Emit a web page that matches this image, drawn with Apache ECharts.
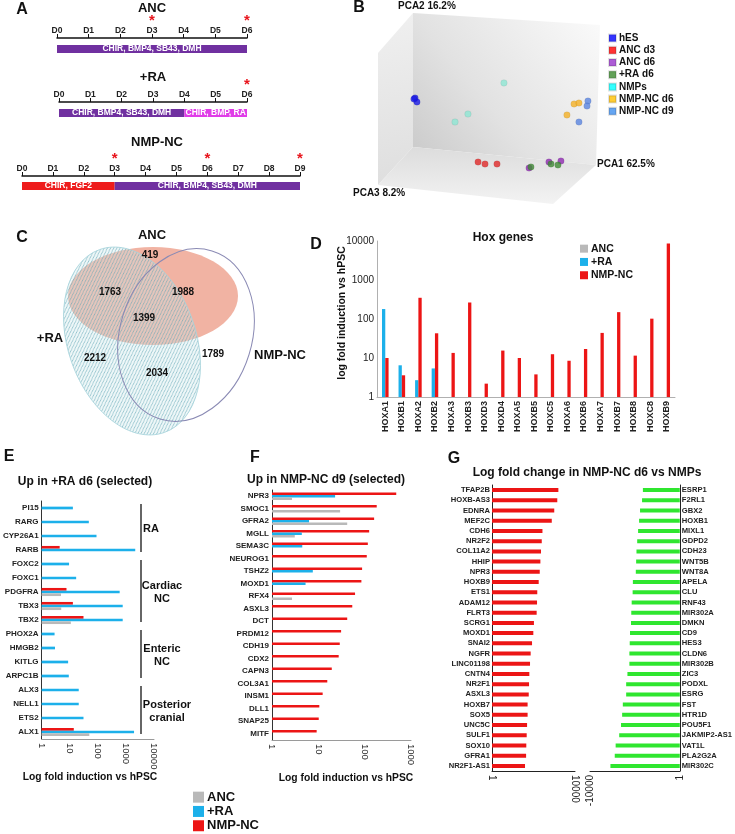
<!DOCTYPE html>
<html><head><meta charset="utf-8">
<script src="https://cdn.jsdelivr.net/npm/echarts@6/dist/echarts.min.js"></script>
<style>html,body{margin:0;padding:0;background:#fff}#c{width:735px;height:834px}</style>
</head><body><div id="c"></div>
<script>
// ---------------- DATA ----------------
// Panel A: differentiation protocols (segment lengths in days)
const ancTicks = ['D0','D1','D2','D3','D4','D5','D6'];
const ancStarDays = [3, 6];
const ancSegLabels = ['CHIR, BMP4, SB43, DMH'];
const ancSegDays = [6];
const raTicks = ['D0','D1','D2','D3','D4','D5','D6'];
const raStarDays = [6];
const raSegLabels = ['CHIR, BMP4, SB43, DMH', 'CHIR, BMP, RA'];
const raSegDays = [4, 2];
const nmpTicks = ['D0','D1','D2','D3','D4','D5','D6','D7','D8','D9'];
const nmpStarDays = [3, 6, 9];
const nmpSegLabels = ['CHIR, FGF2', 'CHIR, BMP4, SB43, DMH'];
const nmpSegDays = [3, 6];

// Panel B: PCA (projected PC1 / PC2 scores)
const pcaGroups = ['hES','ANC d3','ANC d6','+RA d6','NMPs','NMP-NC d6','NMP-NC d9'];
const pcaHES = [[-70.8,6.7],[-69.2,2.9],[-71.7,5.7]];
const pcaANCd3 = [[-18.3,-54.3],[-12.5,-56.2],[-2.5,-56.2]];
const pcaANCd6 = [[24.2,-60],[40.8,-54.3],[50.8,-53.3]];
const pcaRAd6 = [[25.8,-59],[42.5,-56.2],[48.3,-57.1]];
const pcaNMPs = [[3.3,21.0],[-26.7,-8.6],[-37.5,-16.2]];
const pcaNMPNCd6 = [[61.7,1.0],[65.8,1.9],[55.8,-9.5]];
const pcaNMPNCd9 = [[73.3,3.8],[72.5,-1.0],[65.8,-16.2]];
const pcaAxisNames = ['PCA1 62.5%','PCA2 16.2%','PCA3 8.2%'];

// Panel C: Venn counts
const vennSets = ['ANC','+RA','NMP-NC'];
const vennRegions = ['ANC only','ANC & +RA','ANC & NMP-NC','all three','+RA only','+RA & NMP-NC','NMP-NC only'];
const vennCounts = [419, 1763, 1988, 1399, 2212, 2034, 1789];

// Panel D: Hox genes
const hoxGenes = ['HOXA1','HOXB1','HOXA2','HOXB2','HOXA3','HOXB3','HOXD3','HOXD4','HOXA5','HOXB5','HOXC5','HOXA6','HOXB6','HOXA7','HOXB7','HOXB8','HOXC8','HOXB9'];
const hoxRA = [180, 6.5, 2.7, 5.4, '-', '-', '-', '-', '-', '-', '-', '-', '-', '-', '-', '-', '-', '-'];
const hoxNMP = [10, 3.6, 350, 43, 13.5, 265, 2.2, 15.5, 10, 3.8, 12.5, 8.5, 17, 44, 150, 11.5, 102, 8600];

// Panel E: Up in +RA d6
const raGenes = ['PI15','RARG','CYP26A1','RARB','FOXC2','FOXC1','PDGFRA','TBX3','TBX2','PHOX2A','HMGB2','KITLG','ARPC1B','ALX3','NELL1','ETS2','ALX1'];
const raANC = ['-','-','-','-','-','-',4.9,5,11,'-','-','-','-','-','-','-',50];
const raRA = [13,48,90,2150,9.5,17,600,770,770,2.9,3.0,8.8,9.3,21,21,31,1950];
const raNMP = ['-','-','-',4.4,'-','-',7.7,13,31,'-','-','-','-','-','-','-',14];
const raGroups = ['RA','Cardiac\nNC','Enteric\nNC','Posterior\ncranial'];
const raGroupFirst = ['PI15','FOXC2','PHOX2A','ALX3'];
const raGroupLast = ['RARB','TBX2','ARPC1B','ALX1'];

// Panel F: Up in NMP-NC d9
const nmpGenes = ['NPR3','SMOC1','GFRA2','MGLL','SEMA3C','NEUROG1','TSHZ2','MOXD1','RFX4','ASXL3','DCT','PRDM12','CDH19','CDX2','CAPN3','COL3A1','INSM1','DLL1','SNAP25','MITF'];
const nmpNMP = [480,182,160,125,117,111,88,85,62,54,42,31,29,27.5,19.5,15.6,12.4,10.5,10.2,9.2];
const nmpRA = [23,'-',6.3,4.4,4.5,'-',7.6,5.3,'-','-','-','-','-','-','-','-','-','-','-','-'];
const nmpANC = [2.7,29.5,42,3.1,'-','-','-','-',2.7,'-','-','-','-','-','-','-','-','-','-','-'];

// Panel G: log fold change NMP-NC d6 vs NMPs
const gUpGenes = ['TFAP2B','HOXB-AS3','EDNRA','MEF2C','CDH6','NR2F2','COL11A2','HHIP','NPR3','HOXB9','ETS1','ADAM12','FLRT3','SCRG1','MOXD1','SNAI2','NGFR','LINC01198','CNTN4','NR2F1','ASXL3','HOXB7','SOX5','UNC5C','SULF1','SOX10','GFRA1','NR2F1-AS1'];
const gUpFold = [1580,1400,1000,760,270,250,230,215,200,178,152,148,142,105,98,85,73,68,63,61,59,52,52,49,47,45,44,39];
const gDownGenes = ['ESRP1','F2RL1','GBX2','HOXB1','MIXL1','GDPD2','CDH23','WNT5B','WNT8A','APELA','CLU','RNF43','MIR302A','DMKN','CD9','HES3','CLDN6','MIR302B','ZIC3','PODXL','ESRG','FST','HTR1D','POU5F1','JAKMIP2-AS1','VAT1L','PLA2G2A','MIR302C'];
const gDownFold = [-44,-48,-59,-65,-72,-79,-85,-88,-91,-123,-126,-139,-145,-149,-165,-170,-176,-176,-215,-245,-245,-345,-370,-415,-500,-720,-790,-1230];

// ---------------- STYLE ----------------
const FONT = '"Liberation Sans", Arial, Helvetica, sans-serif';
const C_ANC = '#b9b9b9', C_RA = '#1cb0ea', C_NMP = '#ec1515', C_GREEN = '#2fe62f';
const PURPLE = '#7030a0', MAGENTA = '#e03ce8', RED_A = '#ee1c1c';
const pcaPointColors = ['#1a1ae6','#e02828','#8e2bb0','#3f8a34','#8fe6d3','#f4b026','#5a84e0'];
const pcaLegendColors = ['#0000ff','#ff0000','#9933cc','#3b8a2e','#00ffff','#ffc000','#3f8fef'];
const pcaData = [pcaHES, pcaANCd3, pcaANCd6, pcaRAd6, pcaNMPs, pcaNMPNCd6, pcaNMPNCd9];

function txt(x, y, text, size, o) {
  o = o || {};
  return {type:'text', x:x, y:y, rotation:o.rotation||0, silent:true, z:20,
    style:{text:text, font:(o.weight||'bold')+' '+size+'px '+FONT, fill:o.color||'#111',
      textAlign:o.align||'center', verticalAlign:o.valign||'middle', lineHeight:o.lineHeight}};
}

function timelineX(gi, ticks, stars) {
  return {gridIndex:gi, type:'value', min:0, max:ticks.length-1, interval:1, position:'top',
    axisLine:{show:true, onZero:false, lineStyle:{color:'#111', width:1.5}},
    axisTick:{show:true, length:4, lineStyle:{color:'#111', width:1}},
    splitLine:{show:false},
    axisLabel:{margin:3, fontSize:8.5, fontWeight:'bold', color:'#222', fontFamily:FONT,
      formatter:function(v){ return stars.indexOf(v) >= 0 ? '{s|*}\n' + ticks[v] : ticks[v]; },
      rich:{s:{color:'#e8141c', fontSize:15, fontWeight:'bold', lineHeight:11, fontFamily:FONT}}}};
}
function segSeries(gi, labels, days, colors, stackId) {
  return labels.map(function(lab, i){
    return {type:'bar', xAxisIndex:gi, yAxisIndex:gi, stack:stackId, barWidth:8, data:[days[i]], silent:true,
      itemStyle:{color:colors[i]},
      label:{show:true, position:'inside', formatter:lab, color:'#fff', fontSize:8.5, fontWeight:'bold', fontFamily:FONT}};
  });
}
function logX(gi, max, o) {
  o = o || {};
  return {gridIndex:gi, type:'log', logBase:10, min:1, max:max, inverse:!!o.inverse,
    axisLine:{show:true, onZero:false, lineStyle:{color:o.lineColor||'#999', width:1}},
    axisTick:{show:false}, splitLine:{show:false},
    axisLabel:{rotate:o.rotate||-90, fontSize:o.fontSize||9.5, color:'#222', margin:4, fontFamily:FONT,
      formatter:o.formatter||function(v){ return String(Math.round(v)); }}};
}
function catY(gi, data, o) {
  o = o || {};
  return {gridIndex:gi, type:'category', data:data, inverse:true, position:o.position||'left',
    axisLine:{show:true, onZero:false, lineStyle:{color:o.lineColor||'#333', width:1}},
    axisTick:{show:false},
    axisLabel:{interval:0, fontSize:o.fontSize||8, fontWeight:'bold', color:'#222', margin:o.margin||3, fontFamily:FONT}};
}
function hbar(name, gi, data, color, w) {
  return {type:'bar', name:name, xAxisIndex:gi, yAxisIndex:gi, data:data, barWidth:w, barGap:'0%', silent:true, itemStyle:{color:color}};
}

const gRound = function(v){ return Math.round(v); };

const option = {
  animation:false,
  backgroundColor:'#fff',
  textStyle:{fontFamily:FONT},
  grid:[
    {left:57, top:38, width:190, height:22},
    {left:59, top:102, width:188, height:22},
    {left:22, top:176, width:278, height:20},
    {left:380, top:0, width:240, height:210},
    {left:377, top:241, width:298, height:156},
    {left:34, top:501, width:120, height:238},
    {left:272, top:490, width:139, height:250},
    {left:492, top:485, width:83, height:286},
    {left:590, top:485, width:92, height:286}
  ],
  xAxis:[
    timelineX(0, ancTicks, ancStarDays),
    timelineX(1, raTicks, raStarDays),
    timelineX(2, nmpTicks, nmpStarDays),
    {gridIndex:3, type:'value', min:-100, max:100, show:false},
    {gridIndex:4, type:'category', data:hoxGenes,
      axisLine:{lineStyle:{color:'#b0b0b0'}}, axisTick:{show:false},
      axisLabel:{rotate:90, interval:0, fontSize:9, fontWeight:'bold', color:'#222', margin:4, fontFamily:FONT}},
    logX(5, 10000, {lineColor:'#9a9a9a'}),
    logX(6, 1000, {lineColor:'#9a9a9a'}),
    logX(7, 10000, {lineColor:'#222', fontSize:10, formatter:function(v){ var r=Math.round(v); return (r===1||r===10000)? String(r) : ''; }}),
    logX(8, 10000, {lineColor:'#222', fontSize:10, inverse:true, rotate:90, formatter:function(v){ var r=Math.round(v); return r===10000 ? '-10000' : (r===1 ? '1' : ''); }})
  ],
  yAxis:[
    {gridIndex:0, type:'category', data:['p'], show:false},
    {gridIndex:1, type:'category', data:['p'], show:false},
    {gridIndex:2, type:'category', data:['p'], show:false},
    {gridIndex:3, type:'value', min:-100, max:100, show:false},
    {gridIndex:4, type:'log', logBase:10, min:1, max:10000,
      axisLine:{show:true, lineStyle:{color:'#b0b0b0'}}, axisTick:{show:false}, splitLine:{show:false},
      axisLabel:{fontSize:10, color:'#222', margin:3, fontFamily:FONT, formatter:gRound}},
    catY(5, raGenes, {fontSize:8}),
    catY(6, nmpGenes, {fontSize:8}),
    catY(7, gUpGenes, {fontSize:7.6, lineColor:'#222', margin:2}),
    catY(8, gDownGenes, {fontSize:7.6, lineColor:'#222', margin:2, position:'right'})
  ],
  legend:[
    {data:pcaGroups.map(function(n,i){ return {name:n, itemStyle:{color:pcaLegendColors[i]}}; }),
      left:608, top:32, orient:'vertical', icon:'rect', itemWidth:7, itemHeight:7, itemGap:0, padding:0,
      selectedMode:false, textStyle:{fontSize:10, fontWeight:'bold', color:'#111', lineHeight:12.2, padding:[0,0,0,-2]}},
    {data:['ANC','+RA','NMP-NC'], left:580, top:242, orient:'vertical', icon:'rect', itemWidth:8, itemHeight:8, itemGap:0, padding:0,
      selectedMode:false, textStyle:{fontSize:10.5, fontWeight:'bold', color:'#111', lineHeight:13.3, padding:[0,0,0,-2]}},
    {data:['ANC','+RA','NMP-NC'], left:193, top:790, height:44, orient:'vertical', icon:'rect', itemWidth:11, itemHeight:11, itemGap:0, padding:0,
      selectedMode:false, textStyle:{fontSize:13, fontWeight:'bold', color:'#111', lineHeight:14.3, padding:[0,0,0,-2]}}
  ],
  series:[].concat(
    segSeries(0, ancSegLabels, ancSegDays, [PURPLE], 'anc'),
    segSeries(1, raSegLabels, raSegDays, [PURPLE, MAGENTA], 'ra'),
    segSeries(2, nmpSegLabels, nmpSegDays, [RED_A, PURPLE], 'nmp'),
    pcaGroups.map(function(n,i){
      return {type:'scatter', name:n, xAxisIndex:3, yAxisIndex:3, data:pcaData[i], symbolSize:6.5, silent:true, z:5,
        itemStyle:{color:pcaPointColors[i], borderColor:'rgba(0,0,0,0.15)', borderWidth:0.5}};
    }),
    [
      hbar('+RA', 4, hoxRA, C_RA, 3.3),
      hbar('NMP-NC', 4, hoxNMP, C_NMP, 3.3),
      hbar('NMP-NC', 5, raNMP, C_NMP, 2.7),
      hbar('+RA', 5, raRA, C_RA, 2.7),
      hbar('ANC', 5, raANC, C_ANC, 2.7),
      hbar('NMP-NC', 6, nmpNMP, C_NMP, 2.5),
      hbar('+RA', 6, nmpRA, C_RA, 2.5),
      hbar('ANC', 6, nmpANC, C_ANC, 2.5),
      hbar('NMP-NC', 7, gUpFold, C_NMP, 4),
      hbar('NMP-NC d6 vs NMPs down', 8, gDownFold.map(Math.abs), C_GREEN, 4)
    ]
  )
};

const chart = echarts.init(document.getElementById('c'), null, {renderer:'canvas'});
chart.setOption(option);

// ---------------- GRAPHICS ----------------
const hatchCanvas = (function(){
  const c = document.createElement('canvas'); c.width = 4; c.height = 4;
  const g = c.getContext('2d');
  g.fillStyle = 'rgba(205,232,236,0.35)'; g.fillRect(0,0,4,4);
  g.strokeStyle = 'rgba(95,165,180,0.8)'; g.lineWidth = 0.8;
  g.beginPath(); g.moveTo(0,4); g.lineTo(4,0); g.moveTo(-1,1); g.lineTo(1,-1); g.moveTo(3,5); g.lineTo(5,3); g.stroke();
  return c;
})();

const G = [];
// panel letters
[['A',22,10],['B',359,8],['C',22,238],['D',316,245],['E',9,457],['F',255,458],['G',454,459]].forEach(function(l){
  G.push(txt(l[1], l[2], l[0], 16));
});
// Panel A titles
G.push(txt(152, 8, 'ANC', 13));
G.push(txt(153, 77, '+RA', 13));
G.push(txt(157, 142, 'NMP-NC', 13));

// Panel B box
G.push({type:'polygon', z:-5, silent:true, shape:{points:[[378,53],[413,13],[413,147],[378,185]]},
  style:{fill:new echarts.graphic.LinearGradient(0,0,1,1,[{offset:0,color:'#f0f0f0'},{offset:1,color:'#dedede'}])}});
G.push({type:'polygon', z:-5, silent:true, shape:{points:[[413,13],[600,25],[596,165],[413,147]]},
  style:{fill:new echarts.graphic.LinearGradient(1,0,0,1,[{offset:0,color:'#fbfbfb'},{offset:0.6,color:'#e2e2e2'},{offset:1,color:'#c9c9c9'}])}});
G.push({type:'polygon', z:-5, silent:true, shape:{points:[[413,147],[596,165],[553,204],[378,185]]},
  style:{fill:new echarts.graphic.LinearGradient(0,0,0,1,[{offset:0,color:'#dcdcdc'},{offset:1,color:'#f3f3f3'}])}});
G.push(txt(398, 6, pcaAxisNames[1], 10, {align:'left'}));
G.push(txt(597, 164, pcaAxisNames[0], 10, {align:'left'}));
G.push(txt(353, 193, pcaAxisNames[2], 10, {align:'left'}));

// Panel C Venn
G.push({type:'ellipse', silent:true, z:1, x:153, y:296, shape:{cx:0, cy:0, rx:85, ry:49}, style:{fill:'#f1b3a3'}});
G.push({type:'ellipse', silent:true, z:2, x:132, y:341, rotation:0.34, shape:{cx:0, cy:0, rx:64, ry:97},
  style:{fill:{image:hatchCanvas, repeat:'repeat'}, stroke:'#a8d4dc', lineWidth:0.8}});
G.push({type:'ellipse', silent:true, z:3, x:186, y:335, rotation:-0.3, shape:{cx:0, cy:0, rx:66, ry:88},
  style:{fill:'none', stroke:'#8a8ab4', lineWidth:1}});
G.push(txt(152, 235, vennSets[0], 13));
G.push(txt(50, 338, vennSets[1], 13));
G.push(txt(280, 355, vennSets[2], 13));
const vennPos = [[150,255],[110,292],[183,292],[144,318],[95,358],[157,373],[213,354]];
vennCounts.forEach(function(v,i){ G.push(txt(vennPos[i][0], vennPos[i][1], String(v), 10)); });

// Panel D texts
G.push(txt(503, 238, 'Hox genes', 12));
G.push(txt(342, 313, 'log fold induction vs hPSC', 10.5, {rotation:Math.PI/2}));

// Panel E texts + group brackets
G.push(txt(85, 482, 'Up in +RA d6 (selected)', 12));
G.push(txt(90, 777, 'Log fold induction vs hPSC', 10.3));
const groupCx = [151, 162, 162, 167];
raGroups.forEach(function(gname, i){
  const y0 = chart.convertToPixel({yAxisIndex:5}, raGroupFirst[i]);
  const y1 = chart.convertToPixel({yAxisIndex:5}, raGroupLast[i]);
  G.push({type:'line', silent:true, z:10, shape:{x1:141, y1:y0-4, x2:141, y2:y1+2}, style:{stroke:'#333', lineWidth:1.5}});
  G.push(txt(groupCx[i], (y0+y1)/2, gname, 11, {lineHeight:13}));
});

// Panel F texts
G.push(txt(326, 480, 'Up in NMP-NC d9 (selected)', 12));
G.push(txt(346, 778, 'Log fold induction vs hPSC', 10.3));

// Panel G title
G.push(txt(587, 473, 'Log fold change in NMP-NC d6 vs NMPs', 12));

chart.setOption({graphic:G});
</script>
</body></html>
